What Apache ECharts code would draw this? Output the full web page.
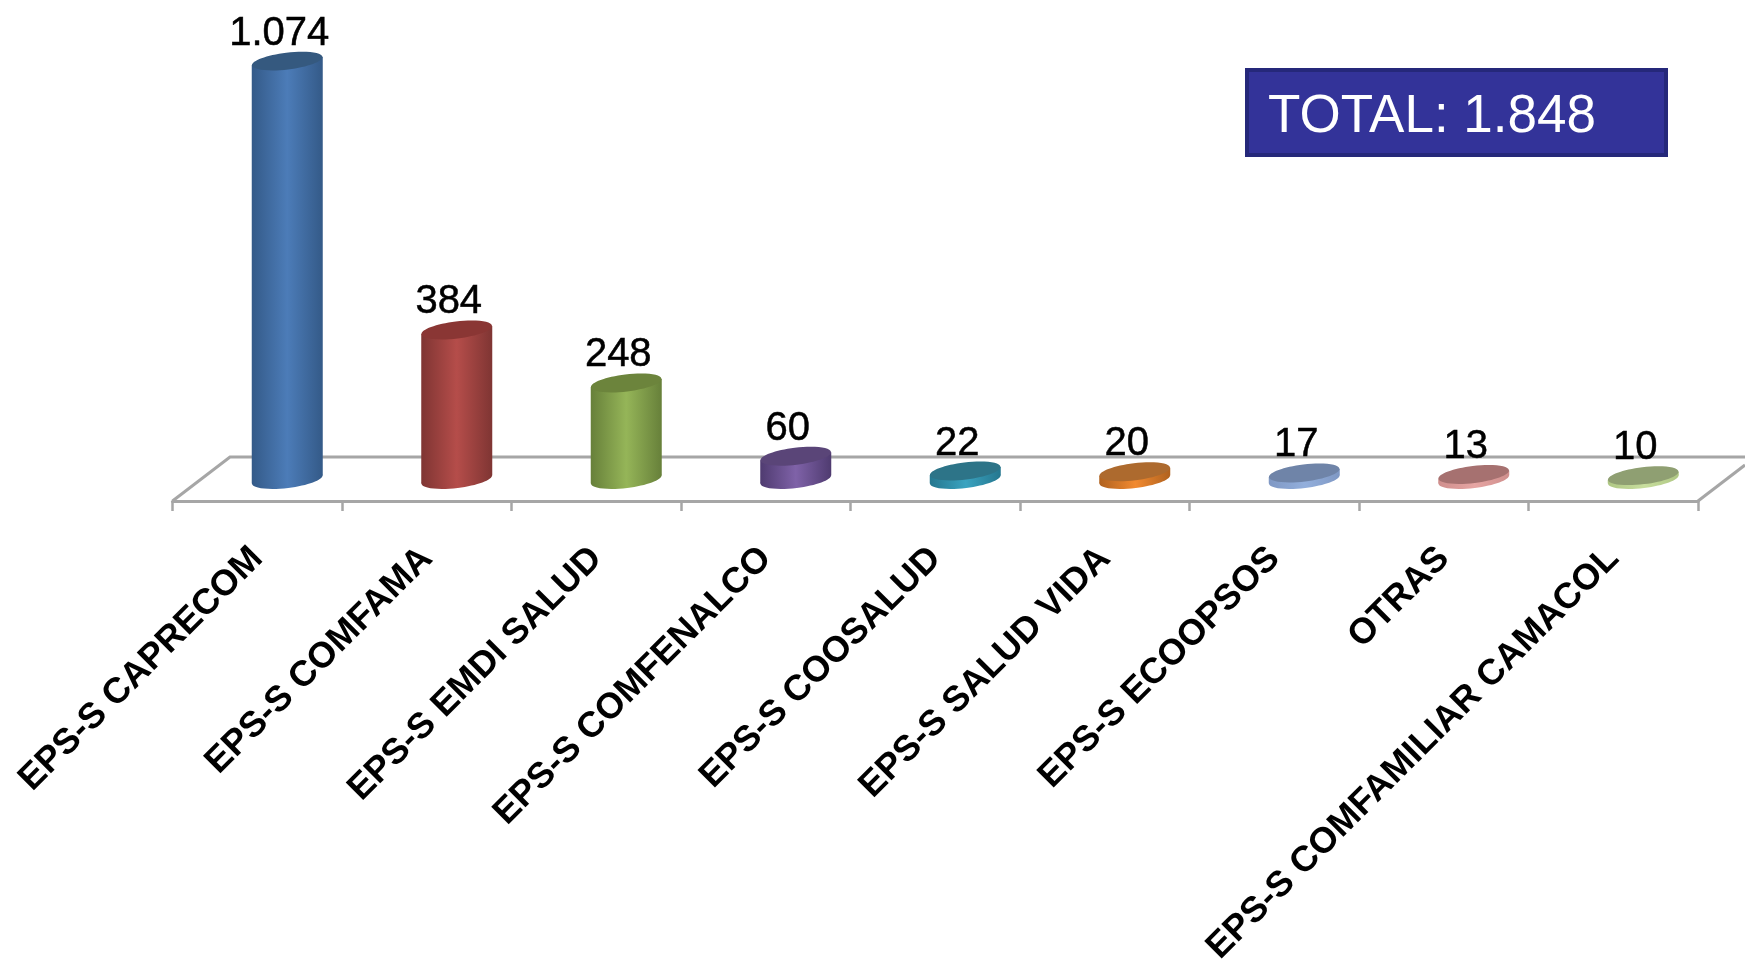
<!DOCTYPE html>
<html><head><meta charset="utf-8">
<style>html,body{margin:0;padding:0;background:#fff}#c{width:1745px;height:964px}</style>
<script src="https://cdn.jsdelivr.net/npm/echarts@6/dist/echarts.min.js"></script>
</head><body><div id="c"></div>
<script>
var categories = ['EPS-S CAPRECOM','EPS-S COMFAMA','EPS-S EMDI SALUD','EPS-S COMFENALCO','EPS-S COOSALUD','EPS-S SALUD VIDA','EPS-S ECOOPSOS','OTRAS','EPS-S COMFAMILIAR CAMACOL'];
var values = [1074,384,248,60,22,20,17,13,10];
var totalLabel = 'TOTAL: 1.848';
var edgeColors = ['#345a88','#7f3533','#67803a','#4f3b70','#25778f','#b0621f','#7f98c4','#cf8f8d','#afc784'];
var midColors  = ['#4c7cb8','#b54d4a','#95b558','#7f62a8','#3aa3c0','#f28a30','#93afdc','#e6a5a3','#c8de9e'];
var topColors  = ['#35597f','#8a3634','#6c843c','#5a4578','#2d7488','#ad6a2e','#6f84a8','#a67170','#8f9f72'];

function fmt(v){ return String(v).replace(/\B(?=(\d{3})+$)/g,'.'); }

var DEPTH = 30, HW = 35.5, RY = 8.5, SKEW = 4, ROT = 0.12;

function renderItem(params, api){
  var i = api.value(0), v = api.value(1);
  var top = api.coord([i, v]), base = api.coord([i, 0]);
  var x = top[0] + DEPTH, yt = top[1], yb = base[1];
  var body = new echarts.graphic.LinearGradient(0,0,1,0,[
    {offset:0,color:edgeColors[i]},{offset:0.5,color:midColors[i]},{offset:1,color:edgeColors[i]}]);
  return {type:'group',children:[
    {type:'ellipse',shape:{cx:x,cy:yb,rx:HW,ry:RY},originX:x,originY:yb,rotation:ROT,style:{fill:body}},
    {type:'polygon',shape:{points:[[x-HW,yt+SKEW],[x+HW,yt-SKEW],[x+HW,yb-SKEW],[x-HW,yb+SKEW]]},style:{fill:body}},
    {type:'ellipse',shape:{cx:x,cy:yt,rx:HW,ry:RY},originX:x,originY:yt,rotation:ROT,style:{fill:topColors[i]}},
    {type:'text',x:x-8,y:yt-27.5,style:{text:fmt(v),fill:'#000',stroke:'#000',lineWidth:0.5,font:'40px "Liberation Sans", Arial, sans-serif',align:'center',verticalAlign:'middle'}}
  ]};
}

var chart = echarts.init(document.getElementById('c'),null,{renderer:'canvas'});
chart.setOption({
  animation:false,
  backgroundColor:'#fff',
  grid:{left:172.5,right:47,top:12,height:489,containLabel:false,outerBoundsMode:'none'},
  xAxis:{type:'category',data:categories,position:'bottom',
    axisLine:{onZero:false,lineStyle:{color:'#a6a6a6',width:3}},
    axisTick:{show:true,length:10,alignWithLabel:false,lineStyle:{color:'#a6a6a6',width:2.5}},
    axisLabel:{rotate:45,interval:0,margin:52,color:'#000',fontFamily:'"Liberation Sans", Arial, sans-serif',fontWeight:'bold',fontSize:36}},
  yAxis:{type:'value',min:-55,max:1200,show:false,splitLine:{show:false}},
  series:[{type:'custom',renderItem:renderItem,encode:{x:0,y:1},data:values.map(function(v,i){return [i,v];}),clip:false,z:5}],
  graphic:[
    {type:'polyline',z:1,shape:{points:[[172.5,501],[230,457],[1745,457]]},style:{fill:'none',stroke:'#a6a6a6',lineWidth:3}},
    {type:'line',z:1,shape:{x1:1698,y1:501,x2:1745,y2:465},style:{stroke:'#a6a6a6',lineWidth:3}},
    {type:'rect',z:6,shape:{x:1247,y:70,width:419,height:85},style:{fill:'#333399',stroke:'#25287a',lineWidth:4}},
    {type:'text',z:7,x:1268,y:117,style:{text:totalLabel,fill:'#fff',font:'53px "Liberation Sans", Arial, sans-serif',align:'left',verticalAlign:'middle'}}
  ]
});
</script></body></html>
